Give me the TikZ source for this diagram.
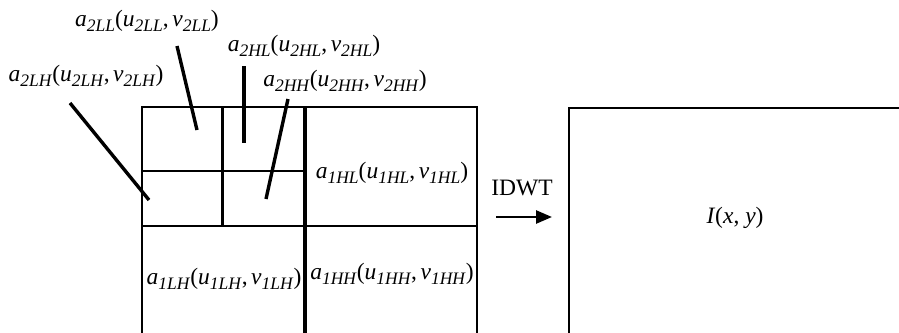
\documentclass[tikz,border=0pt]{standalone}
\usepackage{fontspec}
\setmainfont{Liberation Serif}
\usetikzlibrary{arrows.meta}
\newcommand\sbs[1]{\raisebox{-0.22em}{\fontsize{17.5}{18}\selectfont\textit{#1}}}
\newcommand\coef[1]{\textit{a}\sbs{#1}(\textit{u}\sbs{#1},\kern0.15em\textit{v}\sbs{#1})}
\begin{document}
\begin{tikzpicture}[x=1pt,y=-1pt,
  box/.style={line width=2.9pt},
  lead/.style={line width=3.4pt},
  lab/.style={font=\fontsize{23.5}{26}\selectfont, inner sep=0pt}]
\useasboundingbox (0,0) rectangle (899,332);
\clip (0,0) rectangle (899,332);
% left coefficient square
\draw[box] (142,107) rectangle (477,350);
\draw[box, line width=3.6pt] (305,107) -- (305,350);
\draw[box] (142,226) -- (477,226);
\draw[box] (222.7,107) -- (222.7,226);
\draw[box] (142,171) -- (305,171);
% right image box
\draw[box] (569,350) -- (569,108) -- (910,108);
% labels
\node[lab] (l2LL) at (147,21) {\coef{2LL}};
\node[lab] (l2HL) at (304,46) {\coef{2HL}};
\node[lab] (l2LH) at (86,76) {\coef{2LH}};
\node[lab] (l2HH) at (345,81) {\coef{2HH}};
\node[lab] (l1HL) at (392,173) {\coef{1HL}};
\node[lab] (l1HH) at (392,274) {\coef{1HH}};
\node[lab] (l1LH) at (224,279) {\coef{1LH}};
\node[lab] (idwt) at (522,188) {IDWT};
\node[lab] (img) at (735,218) {\textit{I}(\textit{x}, \textit{y})};
% leader lines
\coordinate (sLL) at (177,46);  \coordinate (eLL) at (197,130);
\coordinate (sHL) at (244,66);  \coordinate (eHL) at (244,143);
\coordinate (sLH) at (70,103);  \coordinate (eLH) at (149,200);
\coordinate (sHH) at (288,99);  \coordinate (eHH) at (266,199);
\draw[lead] (sLL) -- (eLL);
\draw[lead] (sHL) -- (eHL);
\draw[lead] (sLH) -- (eLH);
\draw[lead] (sHH) -- (eHH);
% arrow
\coordinate (a0) at (496,217);
\coordinate (a1) at (552,217);
\draw[line width=2.6pt, -{Triangle[length=16pt,width=13pt]}] (a0) -- (a1);
\end{tikzpicture}
\end{document}
